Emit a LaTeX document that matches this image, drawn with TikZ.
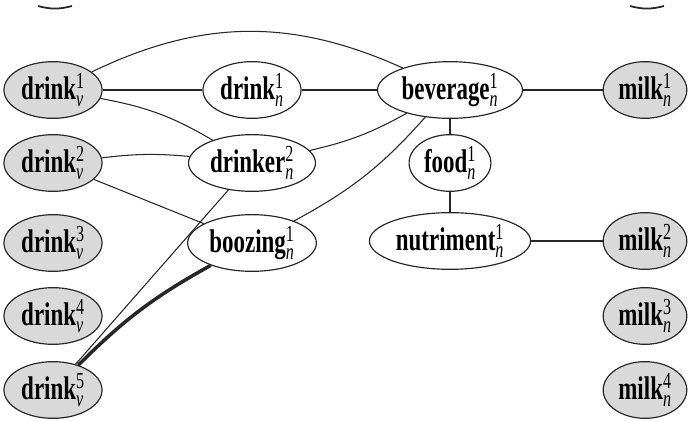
\documentclass[tikz,border=0pt]{standalone}
\usepackage{amsmath}
\usepackage{fontspec}
\setmainfont{Liberation Serif}[FakeStretch=0.7]
\usetikzlibrary{shapes.geometric}
\newcommand{\wsense}[3]{\textbf{#1}$^{\text{\mdseries #2}}_{\text{\mdseries\itshape #3}}$}

\begin{document}
\begin{tikzpicture}[
    x=0.03cm, y=0.03cm,
    sense/.style={ellipse, draw=black!85, line width=1pt, minimum height=1.7cm, inner xsep=2.5pt, inner ysep=0pt, font=\fontsize{28}{30}\selectfont},
    target/.style={sense, fill=gray!30},
    link/.style={draw=black!85, line width=0.9pt},
    strong/.style={link, line width=3pt}
]
    \useasboundingbox (0,0) rectangle (690,421);

    \node[target] (dv1) at (53,331) {\wsense{drink}{1}{v}};
    \node[target] (dv2) at (53,258) {\wsense{drink}{2}{v}};
    \node[target] (dv3) at (53,178) {\wsense{drink}{3}{v}};
    \node[target] (dv4) at (53,105) {\wsense{drink}{4}{v}};
    \node[target] (dv5) at (53,31) {\wsense{drink}{5}{v}};

    \node[sense] (dn1) at (252,331) {\wsense{drink}{1}{n}};
    \node[sense] (drinker) at (252,258) {\wsense{drinker}{2}{n}};
    \node[sense] (boozing) at (252,178) {\wsense{boozing}{1}{n}};

    \node[sense] (beverage) at (450,331) {\wsense{beverage}{1}{n}};
    \node[sense] (food) at (450,258) {\wsense{food}{1}{n}};
    \node[sense] (nutriment) at (450,180) {\wsense{nutriment}{1}{n}};

    \node[target] (mk1) at (645,331) {\wsense{milk}{1}{n}};
    \node[target] (mk2) at (645,180) {\wsense{milk}{2}{n}};
    \node[target] (mk3) at (645,105) {\wsense{milk}{3}{n}};
    \node[target] (mk4) at (645,31) {\wsense{milk}{4}{n}};

    \draw[link] (dv1) -- (dn1);
    \draw[link] (dn1) -- (beverage);
    \draw[link] (beverage) -- (mk1);
    \draw[link] (dv1) to[bend left=25] (beverage);
    \draw[link] (dv1) to[bend left=10] (drinker);
    \draw[link] (dv2) to[bend left=6] (drinker);
    \draw[link] (dv2) -- (boozing);
    \draw[link] (drinker) to[bend right=8] (beverage);
    \draw[link] (boozing) to[bend right=10] (beverage);
    \draw[link] (drinker) -- (dv5);
    \draw[strong] (boozing) to[bend right=8] (dv5);
    \draw[link] (beverage) -- (food);
    \draw[link] (food) -- (nutriment);
    \draw[link] (nutriment) -- (mk2);

    \draw[link, line width=1.5pt] (38,415) to[bend right=15] (72,415);
    \draw[link, line width=1.5pt] (630,415) to[bend right=15] (664,415);
\end{tikzpicture}
\end{document}
